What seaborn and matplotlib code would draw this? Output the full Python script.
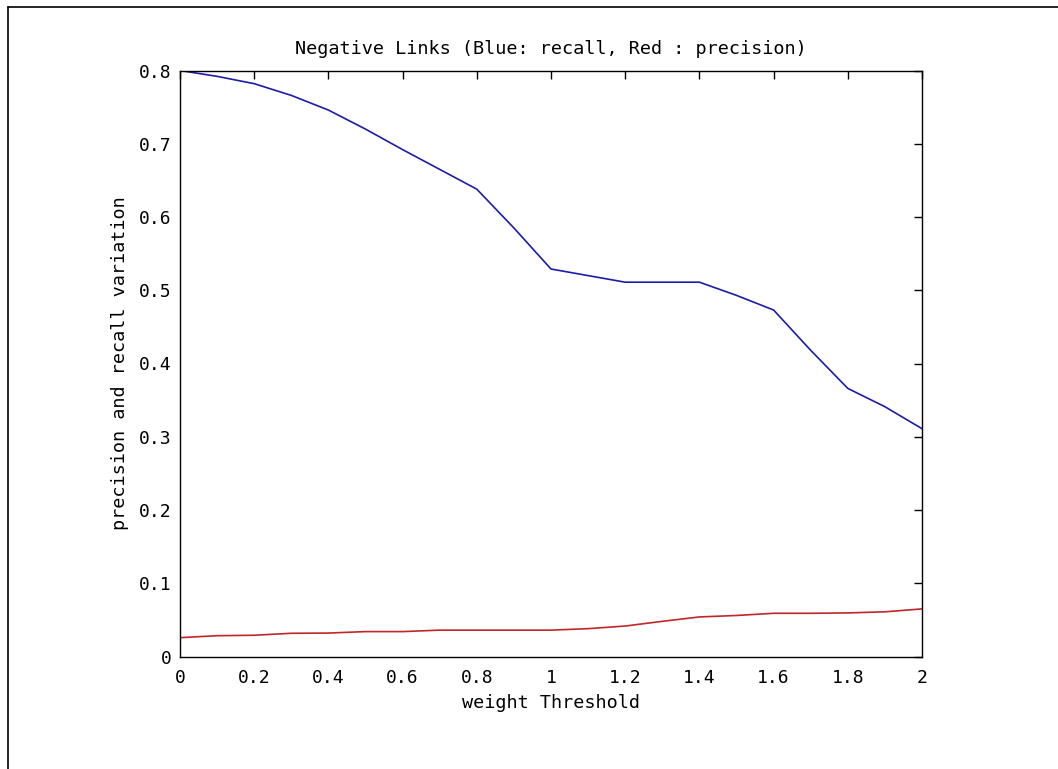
import numpy as np
import pandas as pd
import matplotlib
matplotlib.use("Agg")
import matplotlib.pyplot as plt
import seaborn as sns
from matplotlib.lines import Line2D

thresholds = [0.0, 0.1, 0.2, 0.3, 0.4, 0.5, 0.6, 0.7, 0.8, 0.9, 1.0,
              1.1, 1.2, 1.3, 1.4, 1.5, 1.6, 1.7, 1.8, 1.9, 2.0]
recall = [0.800, 0.792, 0.782, 0.766, 0.746, 0.720, 0.692, 0.665, 0.638, 0.585, 0.529,
          0.520, 0.511, 0.511, 0.511, 0.493, 0.473, 0.418, 0.366, 0.341, 0.311]
precision = [0.0257, 0.0284, 0.0290, 0.0317, 0.0320, 0.0340, 0.0340, 0.0360, 0.0360, 0.0360, 0.0360,
             0.0380, 0.0416, 0.0480, 0.0540, 0.0560, 0.0590, 0.0590, 0.0595, 0.0610, 0.0650]
xticks = [0, 0.2, 0.4, 0.6, 0.8, 1, 1.2, 1.4, 1.6, 1.8, 2]
xticklabels = ["0", "0.2", "0.4", "0.6", "0.8", "1", "1.2", "1.4", "1.6", "1.8", "2"]
yticks = [0, 0.1, 0.2, 0.3, 0.4, 0.5, 0.6, 0.7, 0.8]
yticklabels = ["0", "0.1", "0.2", "0.3", "0.4", "0.5", "0.6", "0.7", "0.8"]

sns.set_style("white")
plt.rcParams['font.family'] = ['DejaVu Sans Mono']
plt.rcParams['text.color'] = 'black'
plt.rcParams['axes.labelcolor'] = 'black'

df = pd.DataFrame({"x": thresholds, "recall": recall, "precision": precision})

fig = plt.figure(figsize=(10.58, 7.69), dpi=100)
ax = fig.add_axes([180/1058, 1-656.5/769, (922-180)/1058, (656.5-70.5)/769])

sns.lineplot(data=df, x="x", y="recall", ax=ax, color="#1c1caa", linewidth=1.2)
sns.lineplot(data=df, x="x", y="precision", ax=ax, color="#c02828", linewidth=1.2)

ax.set_xlim(0, 2)
ax.set_ylim(0, 0.8)
ax.set_xticks(xticks)
ax.set_xticklabels(xticklabels)
ax.set_yticks(yticks)
ax.set_yticklabels(yticklabels)
ax.tick_params(direction="in", length=6, width=1, top=True, right=True,
               labelsize=13, colors="black")
ax.tick_params(axis="x", pad=9)
ax.tick_params(axis="y", pad=6)
for s in ax.spines.values():
    s.set_color("black")
    s.set_linewidth(1)
ax.set_xlabel("weight Threshold", fontsize=13.3, labelpad=5, color="black")
ax.set_ylabel("precision and recall variation", fontsize=13.3, labelpad=7, color="black")
ax.set_title("Negative Links (Blue: recall, Red : precision)", fontsize=13.3, pad=12, color="black")

# outer frame lines (top and left) of the original screenshot
fig.add_artist(Line2D([8/1058, 1], [1-7/769, 1-7/769], color="black", linewidth=1.2,
                      transform=fig.transFigure))
fig.add_artist(Line2D([8/1058, 8/1058], [0, 1-7/769], color="black", linewidth=1.2,
                      transform=fig.transFigure))

fig.savefig("out.png", dpi=100)
